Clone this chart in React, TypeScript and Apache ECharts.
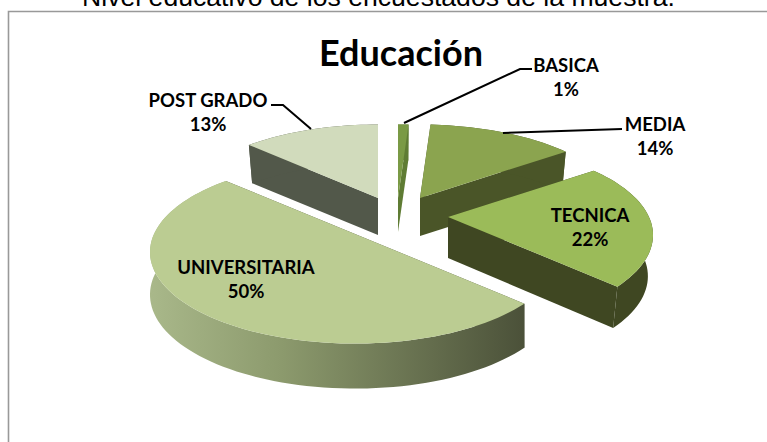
import React, { useEffect, useRef } from "react";
import * as echarts from "echarts";

const categories = ["BASICA", "MEDIA", "TECNICA", "UNIVERSITARIA", "POST GRADO"];
const values = [1, 14, 22, 50, 13];
const drawOrder = [4, 0, 1, 3, 2];

const apexes = [[398, 198], [420, 198], [448, 217], [355, 234], [378, 198]];
const depths = [34, 38, 41, 42, 37];
const shrink = [0.975, 0.975, 0.975, 1, 0.975];
const topColors = ["#7A9A45", "#8BA44F", "#9BBB59", "#BBCC92", "#D1DBBC"];
const wallColors = ["#5F7C34", "#4A5528", "#3F4722", "#4B5139", "#52584A"];
const labelPos = [[566, 76.5], [655, 136], [590, 226.5], [246, 279], [208, 112]];

const F = 201, G = 88, K = 0.197;
const FONT = "bold 18.5px Lato, sans-serif";

function renderSlice(params: any, api: any) {
  const i = api.value(0);
  const total = values.reduce((a, b) => a + b, 0);
  const before = values.slice(0, i).reduce((a, b) => a + b, 0);
  const a0 = (before / total) * Math.PI * 2;
  const a1 = ((before + api.value(1)) / total) * Math.PI * 2;
  const [cx, cy] = apexes[i];
  const S = shrink[i];
  const top = (t: number) => {
    const w = 1 + K * Math.cos(t);
    return [cx + (F * Math.sin(t)) / w, cy - (G * Math.cos(t)) / w];
  };
  const low = (t: number) => {
    const w = 1 + K * Math.cos(t);
    const d = depths[i] + 3 * Math.max(0, -Math.cos(t));
    return [cx + (S * F * Math.sin(t)) / w, cy - (S * G * Math.cos(t)) / w + d];
  };
  const n = Math.max(2, Math.ceil(((a1 - a0) * 180) / Math.PI / 2));
  const ts: number[] = [];
  for (let k = 0; k <= n; k++) ts.push(a0 + ((a1 - a0) * k) / n);
  const arcTop = ts.map(top);
  const arcLow = ts.map(low);
  const apexLow = [cx, cy + depths[i]];
  const apexTop = [cx, cy];
  const wallFill =
    i === 3
      ? new echarts.graphic.LinearGradient(0, 0, 1, 0, [
          { offset: 0, color: "#A9B88A" },
          { offset: 0.35, color: "#8C9A6D" },
          { offset: 1, color: "#4B5139" },
        ])
      : wallColors[i];
  const base = drawOrder.indexOf(i) * 10;
  const poly = (points: number[][], fill: any, z: number) => ({
    type: "polygon",
    shape: { points },
    style: { fill },
    z2: base + z,
  });
  return {
    type: "group",
    children: [
      poly([apexTop, arcTop[0], arcLow[0], apexLow], wallColors[i], 1),
      poly([apexTop, arcTop[n], arcLow[n], apexLow], wallColors[i], 1),
      poly([...arcTop, ...arcLow.slice().reverse()], wallFill, 2),
      poly([apexTop, ...arcTop], topColors[i], 3),
      {
        type: "text",
        z2: 200,
        style: {
          x: labelPos[i][0],
          y: labelPos[i][1],
          text: `${categories[i]}\n${api.value(1)}%`,
          font: FONT,
          lineHeight: 24,
          fill: "#000000",
          align: "center",
          verticalAlign: "middle",
        },
      },
    ],
  };
}

const leader = (points: number[][]) => ({
  type: "polyline",
  z: 10,
  shape: { points },
  style: { stroke: "#000000", lineWidth: 2, fill: "none" },
});

export default function App() {
  const ref = useRef<HTMLDivElement>(null);
  useEffect(() => {
    document.body.style.margin = "0";
    const chart = echarts.init(ref.current!, undefined, { renderer: "svg" });
    chart.setOption({
      animation: false,
      backgroundColor: "#ffffff",
      title: {
        text: "Educación",
        left: 396,
        top: 29,
        textAlign: "center",
        textStyle: { fontFamily: "Lato, sans-serif", fontWeight: "bold", fontSize: 36, color: "#000000" },
      },
      graphic: [
        {
          type: "polyline",
          z: 1,
          shape: { points: [[770, 11.5], [8.5, 11.5], [8.5, 445]] },
          style: { stroke: "#999999", lineWidth: 1.6, fill: "none" },
        },
        {
          type: "text",
          z: 2,
          style: {
            x: 378.5,
            y: -3,
            text: "Nivel educativo de los encuestados de la muestra.",
            font: "26.6px 'Liberation Sans', Arial, sans-serif",
            fill: "#000000",
            align: "center",
            verticalAlign: "middle",
          },
        },
        leader([[532, 69], [520, 69], [404, 123]]),
        leader([[622, 129], [503, 133]]),
        leader([[271, 105], [283, 105], [311, 129]]),
      ],
      series: [
        {
          type: "custom",
          coordinateSystem: "none",
          renderItem: renderSlice,
          data: drawOrder.map((i) => [i, values[i]]),
          silent: true,
        },
      ],
    });
    return () => chart.dispose();
  }, []);
  return <div ref={ref} style={{ width: 767, height: 442 }} />;
}
